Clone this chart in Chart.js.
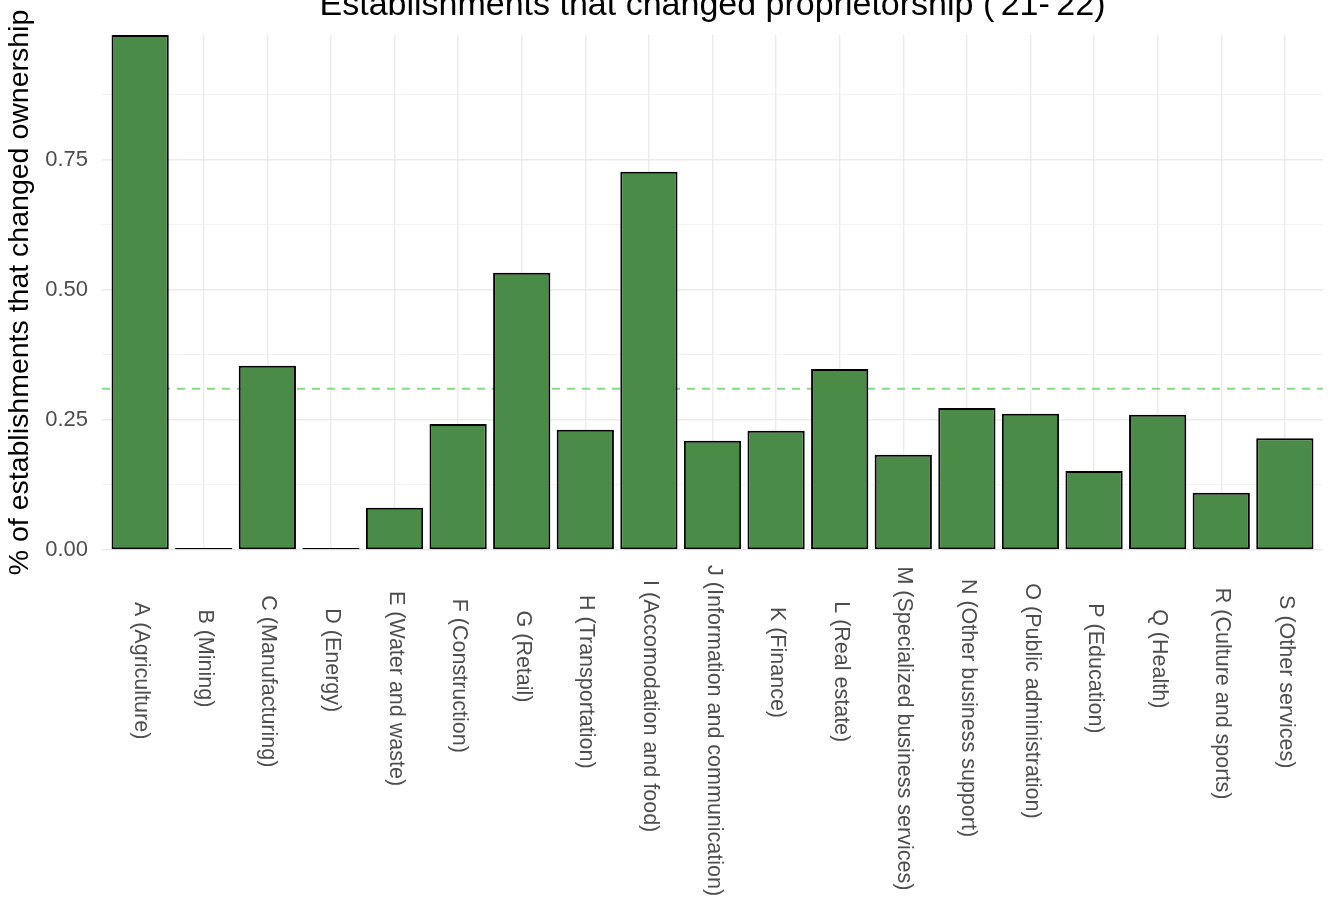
<!DOCTYPE html>
<html>
<head>
<meta charset="utf-8">
<script src="https://cdn.jsdelivr.net/npm/chart.js@4"></script>
<style>
  body { margin: 0; background: #fff; }
  #chart { display: block; }
</style>
</head>
<body>
<canvas id="chart" width="1335" height="905"></canvas>
<script>
const sectors = [
  "A (Agriculture)", "B (Mining)", "C (Manufacturing)", "D (Energy)",
  "E (Water and waste)", "F (Construction)", "G (Retail)", "H (Transportation)",
  "I (Accomodation and food)", "J (Information and communication)", "K (Finance)",
  "L (Real estate)", "M (Specialized business services)", "N (Other business support)",
  "O (Public administration)", "P (Education)", "Q (Health)", "R (Culture and sports)",
  "S (Other services)"
];
const shares = [0.99, 0, 0.354, 0, 0.081, 0.242, 0.533, 0.231, 0.727, 0.210,
  0.229, 0.348, 0.183, 0.273, 0.262, 0.152, 0.260, 0.110, 0.215];
const overall = 0.31;
const yTicks = [0, 0.25, 0.5, 0.75];
const chartTitle = "Establishments that changed proprietorship ('21-'22)";
const yTitle = "% of establishments that changed ownership";

const FONT = "'Liberation Sans', Arial, sans-serif";

function isMajor(v) {
  return yTicks.some(t => Math.abs(t - v) < 1e-6);
}

// title sits half off the top edge like in the source image
const titlePlugin = {
  id: 'topTitle',
  afterDraw(chart) {
    const {ctx, chartArea} = chart;
    ctx.save();
    ctx.font = "34px " + FONT;
    ctx.fillStyle = "#000";
    ctx.textAlign = "center";
    ctx.textBaseline = "alphabetic";
    ctx.fillText(chartTitle, (chartArea.left + chartArea.right) / 2, 15);
    ctx.restore();
  }
};

// x labels turned clockwise (reading downwards)
const xLabelPlugin = {
  id: 'xLabels',
  afterDraw(chart) {
    const {ctx, chartArea} = chart;
    const xs = chart.scales.x;
    ctx.save();
    ctx.font = "21.5px " + FONT;
    ctx.fillStyle = "#4d4d4d";
    ctx.textAlign = "left";
    ctx.textBaseline = "middle";
    sectors.forEach((label, i) => {
      const w = ctx.measureText(label).width;
      const x = xs.getPixelForValue(i) + 1;
      const y = chartArea.bottom + 78 - 0.19 * w;
      ctx.save();
      ctx.translate(x, y);
      ctx.rotate(Math.PI / 2);
      ctx.fillText(label, 0, 0);
      ctx.restore();
    });
    ctx.restore();
  }
};

new Chart(document.getElementById('chart'), {
  data: {
    datasets: [
      {
        type: 'bar',
        data: shares.map((v, i) => ({x: i, y: v})),
        backgroundColor: '#498B47',
        borderColor: '#000',
        borderWidth: 2,
        borderSkipped: false,
        minBarLength: 2,
        barPercentage: 0.9,
        categoryPercentage: 1,
        order: 1
      },
      {
        type: 'line',
        data: [{x: -0.6, y: overall}, {x: 18.6, y: overall}],
        borderColor: '#86DA86',
        borderWidth: 2,
        borderDash: [8, 7],
        pointRadius: 0,
        fill: false,
        order: 2
      }
    ]
  },
  options: {
    responsive: false,
    devicePixelRatio: 1,
    animation: false,
    layout: { padding: { top: 35, right: 12, left: 0, bottom: 0 } },
    plugins: {
      legend: { display: false },
      tooltip: { enabled: false },
      title: { display: false }
    },
    scales: {
      x: {
        type: 'linear',
        min: -0.6,
        max: 18.6,
        offset: false,
        border: { display: false },
        grid: { color: '#ebebeb', lineWidth: 1.4, drawTicks: false, offset: false },
        ticks: { display: false, stepSize: 1, includeBounds: false },
        afterFit(scale) { scale.height = 355; }
      },
      y: {
        min: 0,
        max: 0.99,
        border: { display: false },
        grid: {
          color: ctx => isMajor(ctx.tick.value) ? '#ebebeb' : '#f2f2f2',
          lineWidth: ctx => isMajor(ctx.tick.value) ? 1.4 : 1,
          drawTicks: false
        },
        ticks: {
          stepSize: 0.125,
          includeBounds: false,
          autoSkip: false,
          padding: 14,
          color: '#4d4d4d',
          font: { family: FONT, size: 22 },
          callback: v => isMajor(v) ? v.toFixed(2) : ''
        },
        title: {
          display: true,
          text: yTitle,
          color: '#000',
          font: { family: FONT, size: 28.5 },
          padding: { top: 3, bottom: 0 }
        },
        afterFit(scale) { scale.width = 102; }
      }
    }
  },
  plugins: [titlePlugin, xLabelPlugin]
});
</script>
</body>
</html>
